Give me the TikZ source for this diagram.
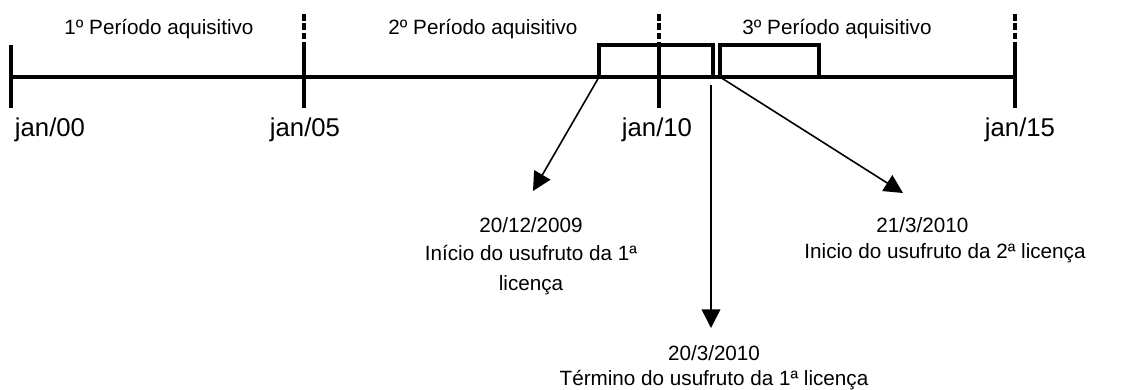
\documentclass[tikz,border=0pt]{standalone}
\usepackage{fontspec}
\setmainfont{Liberation Sans}
\usetikzlibrary{arrows.meta}
\begin{document}
\begin{tikzpicture}[x=0.75pt,y=0.75pt,yscale=-1,xscale=1,
  eixo/.style={line width=2.4pt},
  tracos/.style={line width=2.4pt,dash pattern=on 5pt off 2pt},
  seta/.style={line width=1.2pt,-{Triangle[length=14pt,width=14pt]}},
  periodo/.style={font=\fontsize{15.5}{18}\selectfont,inner sep=0pt,anchor=base},
  data/.style={font=\fontsize{19.3}{22}\selectfont,inner sep=0pt,anchor=base},
  legenda/.style={align=center,inner sep=0pt,anchor=north}]
\useasboundingbox (0,0) rectangle (1127,389);

%Straight Lines (eixo)
\draw[eixo] (11,77) -- (1015,77) ;
\draw[eixo] (11,45) -- (11,108) ;
\foreach \x in {304,659,1015} {
  \draw[tracos] (\x,14) -- (\x,43) ;
  \draw[eixo] (\x,43) -- (\x,108) ;
}

%Licencas
\draw[eixo] (599,77) |- (713,45) -- (713,77) ;
\draw[eixo] (720,77) |- (819,45) -- (819,77) ;
\coordinate (ini1) at (599,77) ;
\coordinate (ini2) at (720,77) ;
\coordinate (fim1) at (711,85) ;

%Periodos
\node[periodo] (p1) at (159,34) {1º Período aquisitivo} ;
\node[periodo] (p2) at (483,34) {2º Período aquisitivo} ;
\node[periodo] (p3) at (837,34) {3º Período aquisitivo} ;

%Datas
\node[data] (j00) at (50,136) {jan/00} ;
\node[data] (j05) at (305,136) {jan/05} ;
\node[data] (j10) at (657,136) {jan/10} ;
\node[data] (j15) at (1020,136) {jan/15} ;

%Legendas
\node[legenda,font=\fontsize{15.5}{21}\selectfont] (l1) at (531,217)
  {20/12/2009\\Início do usufruto da 1ª\\[1.5pt]licença} ;
\node[legenda,font=\fontsize{15.5}{19.5}\selectfont] (l2) at (945,217)
  {21/3/2010\hspace*{34pt}\\Inicio do usufruto da 2ª licença} ;
\node[legenda,font=\fontsize{15.5}{19}\selectfont] (l3) at (714,345)
  {20/3/2010\\Término do usufruto da 1ª licença} ;

%Setas
\coordinate (s1) at (533,191) ;
\coordinate (s2) at (903,193) ;
\coordinate (s3) at (711,328) ;
\draw[seta] (ini1) -- (s1) ;
\draw[seta] (ini2) -- (s2) ;
\draw[seta] (fim1) -- (s3) ;
\end{tikzpicture}
\end{document}
